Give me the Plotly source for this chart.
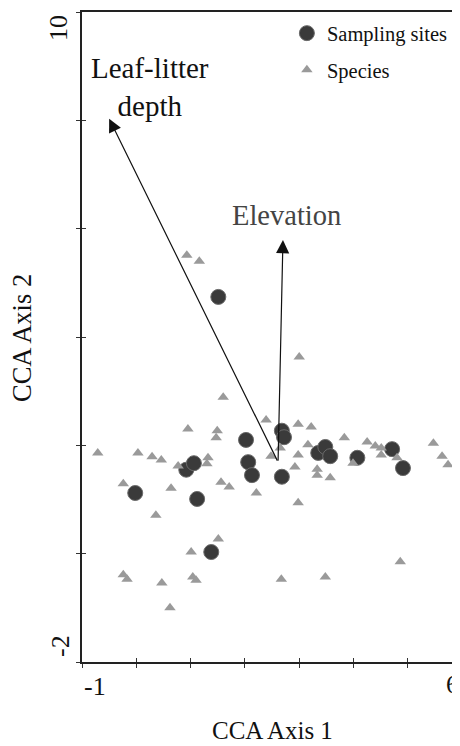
import plotly.graph_objects as go

# Sampling sites (CCA scores)
site_x = [1.51, -0.02, 1.12, 1.38, 0.92, 1.06, 2.02, 2.06, 2.13, 2.68, 2.72, 2.68,
          3.35, 3.48, 3.57, 4.07, 4.71, 4.91]
site_y = [4.74, 1.12, 1.01, 0.03, 1.55, 1.67, 2.10, 1.69, 1.45, 2.27, 2.15, 1.42,
          1.86, 1.97, 1.80, 1.77, 1.93, 1.58]

# Species (CCA scores)
sp_x = [0.93, 1.16, 3.00, 1.60, 2.39, 2.98, 3.22, 0.95, 1.49, 1.47, -0.71, 0.03,
        0.29, 0.46, 0.77, 1.32, 1.30, 2.48, 2.65, 2.98, 2.92, 3.16, 3.83, 4.25,
        4.40, 4.51, 4.51, 4.80, 5.47, 5.63, 5.74, 3.33, 3.33, 3.57, 3.99, -0.24,
        0.64, 1.56, 1.71, 2.21, 2.98, 0.36, 1.51, 1.01, -0.24, -0.17, 0.47, 1.04,
        1.10, 0.62, 2.67, 3.48, 4.86]
sp_y = [5.51, 5.40, 3.63, 2.89, 2.47, 2.39, 2.34, 2.30, 2.27, 2.14, 1.86, 1.86,
        1.79, 1.73, 1.62, 1.77, 1.66, 1.80, 1.95, 1.82, 1.60, 2.01, 2.14, 2.06,
        1.99, 1.95, 1.82, 1.77, 2.04, 1.80, 1.64, 1.56, 1.45, 1.40, 1.67, 1.29,
        1.21, 1.32, 1.23, 1.12, 0.94, 0.71, 0.27, 0.03, -0.39, -0.47, -0.54, -0.43,
        -0.49, -1.00, -0.47, -0.43, -0.15]

# Environmental vectors
vec_names = ["Leaf-litter<br>depth", "Elevation"]
vec_origin = [2.61, 1.69]
vec_tip_x = [-0.50, 2.70]
vec_tip_y = [8.03, 5.79]

x_range = [-1, 5.96]
y_range = [-2, 10]
x_ticks = [-1, 0, 1, 2, 3, 4, 5, 6]
y_ticks = [-2, 0, 2, 4, 6, 8, 10]

FONT = "Liberation Serif"
PX0, PX1, PY0, PY1 = 82, 460, 12, 662   # plot area in page pixels


def px(xp):
    return (xp - PX0) / (PX1 - PX0)


def py(yp):
    return (PY1 - yp) / (PY1 - PY0)


fig = go.Figure()
fig.add_trace(go.Scatter(
    x=site_x, y=site_y, mode="markers", name="Sampling sites", legendgroup="a",
    marker=dict(symbol="circle", size=15, color="#3a3a3a",
                line=dict(color="#6a6a6a", width=1)),
    cliponaxis=False))
fig.add_trace(go.Scatter(
    x=sp_x, y=sp_y, mode="markers", name="Species", legendgroup="b",
    marker=dict(symbol="triangle-up", size=10, color="#9a9a9a", line=dict(width=0)),
    cliponaxis=False))
# invisible trace for overlay axes (inner tick marks)
fig.add_trace(go.Scatter(x=[x_range[0]], y=[y_range[0]], xaxis="x2", yaxis="y2",
                         mode="markers", marker=dict(opacity=0), showlegend=False,
                         hoverinfo="skip"))


def label(x, y, text, size=26, color="#111", angle=0, xanchor="center"):
    return dict(x=px(x), y=py(y), xref="paper", yref="paper", text=text,
                showarrow=False, xanchor=xanchor, yanchor="middle",
                textangle=angle, font=dict(family=FONT, size=size, color=color))


annotations = []
for name, tx, ty, col, lx, ly, fs in zip(vec_names, vec_tip_x, vec_tip_y,
                                         ["#111111", "#444444"],
                                         [150, 286], [87, 215], [29, 28.5]):
    annotations.append(dict(x=tx, y=ty, xref="x", yref="y",
                            ax=vec_origin[0], ay=vec_origin[1], axref="x", ayref="y",
                            showarrow=True, arrowhead=2, arrowsize=2.2,
                            arrowwidth=1.2, arrowcolor="#111111", text=""))
    annotations.append(label(lx, ly, name, size=fs, color=col))

annotations += [
    label(95, 686, "-1"),
    label(444, 684, "6", xanchor="left"),
    label(59, 28, "10", angle=-90),
    label(60, 646, "-2", angle=-90),
    label(272, 731, "CCA Axis 1", size=25),
    label(22, 338, "CCA Axis 2", size=26.5, angle=-90),
]

axis_common = dict(showgrid=False, zeroline=False, showticklabels=False)
fig.update_layout(
    width=452, height=738,
    margin=dict(l=74, r=0, t=4, b=84),
    paper_bgcolor="white", plot_bgcolor="white",
    font=dict(family=FONT, color="#111"),
    xaxis=dict(range=x_range, tickvals=x_ticks, ticks="outside", ticklen=4,
               tickwidth=1, tickcolor="#333", showline=True, linecolor="#222",
               linewidth=1.5, mirror=True, **axis_common),
    yaxis=dict(range=y_range, tickvals=y_ticks, ticks="outside", ticklen=4,
               tickwidth=1, tickcolor="#333", showline=True, linecolor="#222",
               linewidth=1.5, **axis_common),
    xaxis2=dict(range=x_range, tickvals=x_ticks, ticks="inside", ticklen=4,
                tickwidth=1, tickcolor="#333", overlaying="x", anchor="y2",
                showline=False, **axis_common),
    yaxis2=dict(range=y_range, tickvals=y_ticks, ticks="inside", ticklen=4,
                tickwidth=1, tickcolor="#333", overlaying="y", anchor="x2",
                showline=False, **axis_common),
    legend=dict(x=0.542, y=0.998, xanchor="left", yanchor="top",
                bgcolor="rgba(0,0,0,0)", tracegroupgap=7,
                font=dict(family=FONT, size=20.5, color="#111")),
    annotations=annotations,
)

fig.write_html("out.html")
